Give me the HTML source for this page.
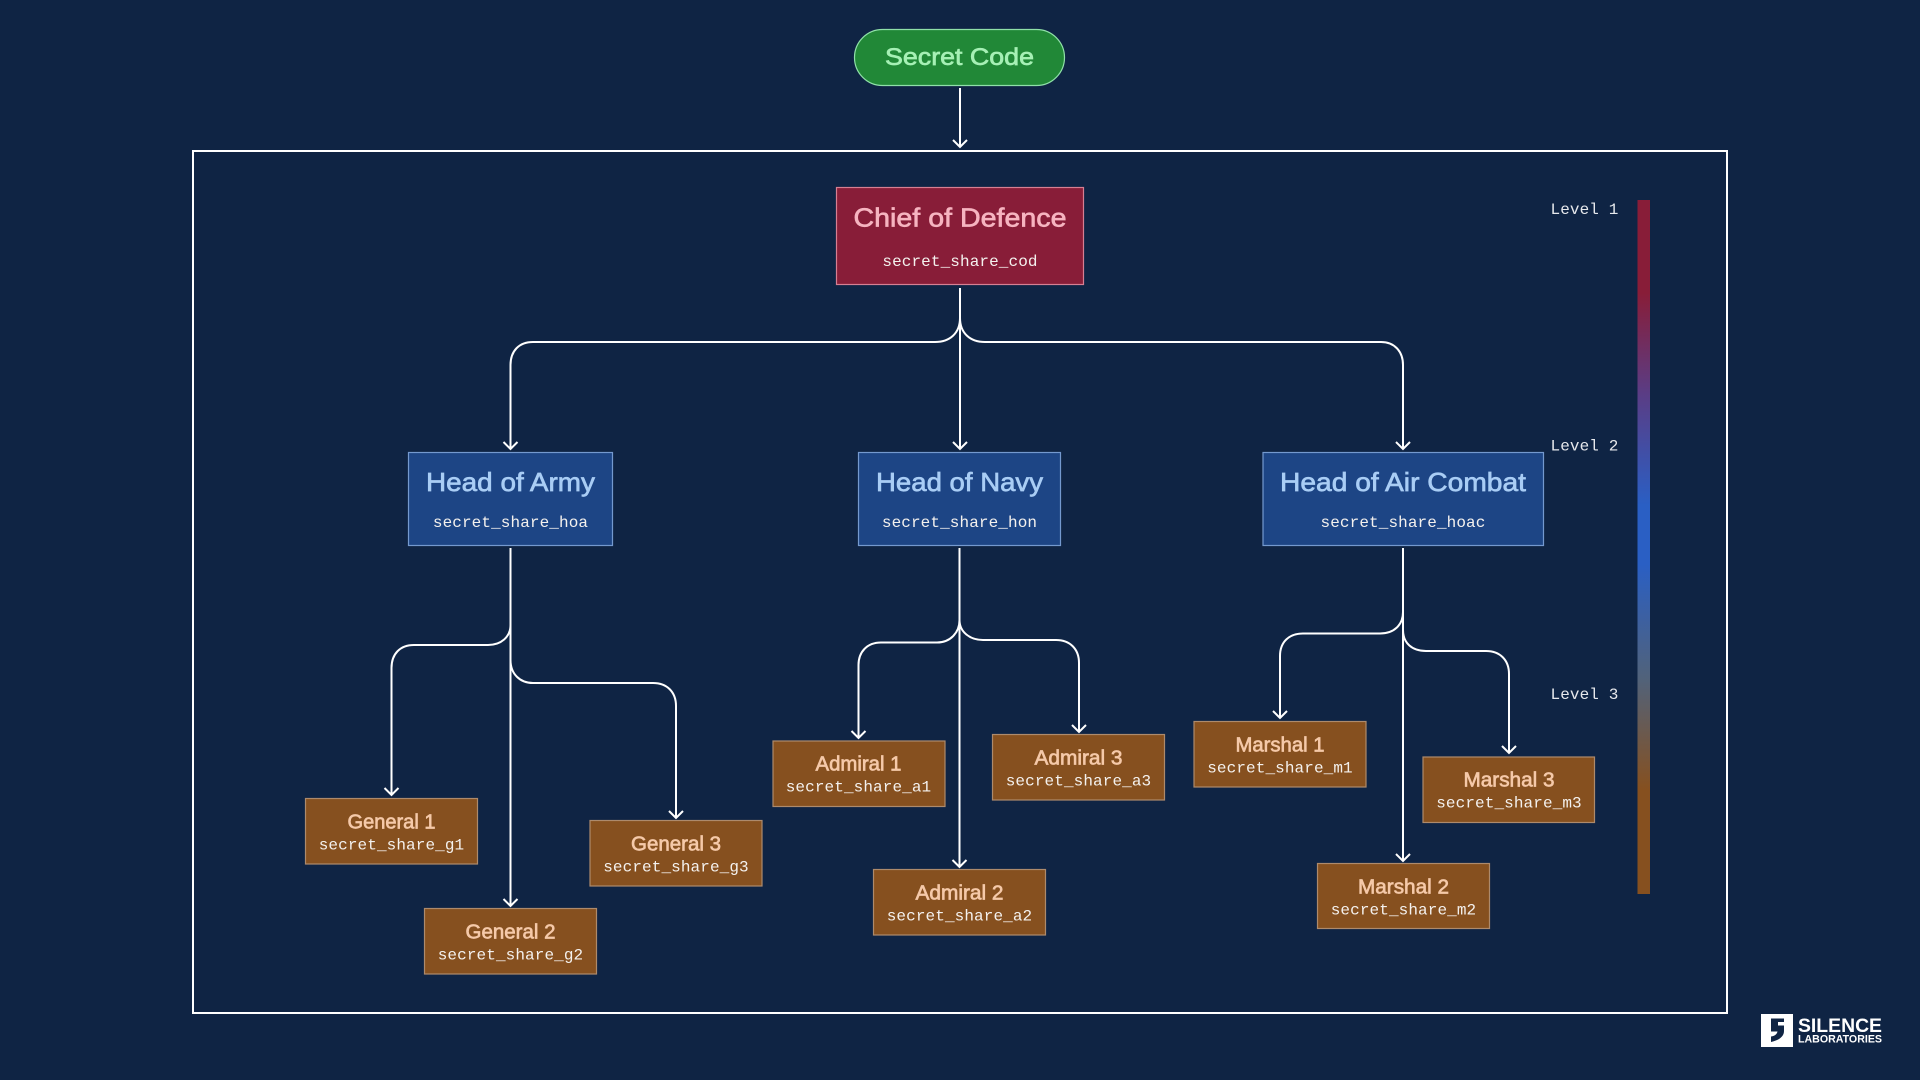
<!DOCTYPE html>
<html><head><meta charset="utf-8"><style>
html,body{margin:0;padding:0;background:#0f2444;width:1920px;height:1080px;overflow:hidden}
svg{display:block}
.t{font-family:"Liberation Sans",sans-serif;text-anchor:middle;font-weight:400;stroke-width:.65px}
.m{font-family:"Liberation Mono",monospace;font-size:16px;fill:#f4f1ee;text-anchor:middle;letter-spacing:.1px}
.a{fill:none;stroke:#fff;stroke-width:2;stroke-linecap:butt}
.or{fill:#86501f;stroke:#ad8a6c;stroke-width:1.2}
.ot{font-size:20px;fill:#f5c9a9;stroke:#f5c9a9}
.bl{fill:#1d4585;stroke:#7499cf;stroke-width:1.2}
.bt{font-size:26px;fill:#a9cdf5;stroke:#a9cdf5}
.l{font-family:"Liberation Mono",monospace;font-size:16px;fill:#e6e8ec;letter-spacing:.1px}
</style></head><body>
<svg width="1920" height="1080" viewBox="0 0 1920 1080" xmlns="http://www.w3.org/2000/svg">
<defs><linearGradient id="g" x1="0" y1="200" x2="0" y2="894" gradientUnits="userSpaceOnUse">
<stop offset="0" stop-color="#881d38"/><stop offset=".134" stop-color="#881d38"/>
<stop offset=".28" stop-color="#5a3d85"/>
<stop offset=".44" stop-color="#2a5fc4"/><stop offset=".525" stop-color="#2a5fc4"/>
<stop offset=".69" stop-color="#51627a"/>
<stop offset=".85" stop-color="#86501f"/><stop offset="1" stop-color="#86501f"/>
</linearGradient></defs>
<rect width="1920" height="1080" fill="#0f2444"/>
<rect x="193" y="151" width="1534" height="862" fill="none" stroke="#fff" stroke-width="2"/>
<rect x="1637.500" y="200" width="12.500" height="694" fill="url(#g)"/>

<!-- connectors -->
<path class="a" d="M960 88V147M953 140L960 147L967 140"/>
<path class="a" d="M960 288V449M953 442L960 449L967 442"/>
<path class="a" d="M960 318C960 333 950 342 935 342H533C519 342 510.5 351 510.5 365V449M503.5 442L510.5 449L517.5 442"/>
<path class="a" d="M960 318C960 333 970 342 985 342H1381C1394 342 1403 351 1403 365V449M1396 442L1403 449L1410 442"/>

<path class="a" d="M510.5 548V906M503.5 899L510.5 906L517.5 899"/>
<path class="a" d="M510.5 625C510.5 637 501 645 488 645H414C400 645 391.5 654 391.5 668V795M384.5 788L391.5 795L398.5 788"/>
<path class="a" d="M510.5 660C510.5 674 520 683 533 683H653C667 683 676 692 676 706V818M669 811L676 818L683 811"/>

<path class="a" d="M959.5 548V867M952.5 860L959.5 867L966.5 860"/>
<path class="a" d="M959.5 620C959.5 633 950 642.500 937 642.500H881C867 642.500 858.500 652 858.500 665V738M851.500 731L858.500 738L865.500 731"/>
<path class="a" d="M959.5 620C959.5 632 970 640 983 640H1056C1070 640 1079 649 1079 663V732M1072 725L1079 732L1086 725"/>

<path class="a" d="M1403 548V861M1396 854L1403 861L1410 854"/>
<path class="a" d="M1403 612C1403 625 1394 633.500 1380 633.500H1303C1289 633.500 1280 642 1280 656V718M1273 711L1280 718L1287 711"/>
<path class="a" d="M1403 630C1403 643 1412 651 1426 651H1486C1500 651 1509 660 1509 674V753M1502 746L1509 753L1516 746"/>

<!-- top nodes -->
<rect x="854.500" y="29.500" width="210" height="56" rx="28" fill="#218837" stroke="#8fe0a8" stroke-width="1.2"/>
<text class="t" x="959.500" y="65" font-size="24" fill="#a6f0b5" stroke="#a6f0b5" textLength="149" lengthAdjust="spacingAndGlyphs">Secret Code</text>

<rect x="836.500" y="187.500" width="247" height="97" fill="#881d38" stroke="#d67f92" stroke-width="1.2"/>
<text class="t" x="960" y="226.500" font-size="26" fill="#f6b4c0" stroke="#f6b4c0" textLength="213" lengthAdjust="spacingAndGlyphs">Chief of Defence</text>
<text class="m" x="960" y="266">secret_share_cod</text>

<!-- level 2 -->
<rect class="bl" x="408.500" y="452.500" width="204" height="93"/>
<text class="t bt" x="510.500" y="491" textLength="169" lengthAdjust="spacingAndGlyphs">Head of Army</text>
<text class="m" x="510.500" y="527">secret_share_hoa</text>

<rect class="bl" x="858.500" y="452.500" width="202" height="93"/>
<text class="t bt" x="959.500" y="491" textLength="167" lengthAdjust="spacingAndGlyphs">Head of Navy</text>
<text class="m" x="959.500" y="527">secret_share_hon</text>

<rect class="bl" x="1263" y="452.500" width="280.500" height="93"/>
<text class="t bt" x="1403" y="491" textLength="246" lengthAdjust="spacingAndGlyphs">Head of Air Combat</text>
<text class="m" x="1403" y="527">secret_share_hoac</text>

<!-- level 3 -->
<rect class="or" x="305.500" y="798.500" width="172" height="65.500"/>
<text class="t ot" x="391.500" y="828.500" textLength="88" lengthAdjust="spacingAndGlyphs">General 1</text>
<text class="m" x="391.500" y="849.500">secret_share_g1</text>

<rect class="or" x="424.500" y="908.500" width="172" height="65.500"/>
<text class="t ot" x="510.500" y="938.500" textLength="90" lengthAdjust="spacingAndGlyphs">General 2</text>
<text class="m" x="510.500" y="959.500">secret_share_g2</text>

<rect class="or" x="590" y="820.500" width="172" height="65.500"/>
<text class="t ot" x="676" y="850.500" textLength="90" lengthAdjust="spacingAndGlyphs">General 3</text>
<text class="m" x="676" y="871.500">secret_share_g3</text>

<rect class="or" x="773" y="741" width="172" height="65.500"/>
<text class="t ot" x="858.500" y="770.500" textLength="86" lengthAdjust="spacingAndGlyphs">Admiral 1</text>
<text class="m" x="858.500" y="791.500">secret_share_a1</text>

<rect class="or" x="873.500" y="869.500" width="172" height="65.500"/>
<text class="t ot" x="959.500" y="899.500" textLength="88" lengthAdjust="spacingAndGlyphs">Admiral 2</text>
<text class="m" x="959.500" y="920.500">secret_share_a2</text>

<rect class="or" x="992.500" y="734.500" width="172" height="65.500"/>
<text class="t ot" x="1078.500" y="764.500" textLength="88" lengthAdjust="spacingAndGlyphs">Admiral 3</text>
<text class="m" x="1078.500" y="785.500">secret_share_a3</text>

<rect class="or" x="1194" y="721.500" width="172" height="65.500"/>
<text class="t ot" x="1280" y="751.500" textLength="89" lengthAdjust="spacingAndGlyphs">Marshal 1</text>
<text class="m" x="1280" y="772.500">secret_share_m1</text>

<rect class="or" x="1317.500" y="863.500" width="172" height="65"/>
<text class="t ot" x="1403.500" y="893.500" textLength="91" lengthAdjust="spacingAndGlyphs">Marshal 2</text>
<text class="m" x="1403.500" y="914.500">secret_share_m2</text>

<rect class="or" x="1423" y="757" width="171.500" height="65.500"/>
<text class="t ot" x="1509" y="786.500" textLength="91" lengthAdjust="spacingAndGlyphs">Marshal 3</text>
<text class="m" x="1509" y="807.500">secret_share_m3</text>

<!-- legend -->
<text class="l" x="1550.500" y="214">Level 1</text>
<text class="l" x="1550.500" y="450.500">Level 2</text>
<text class="l" x="1550.500" y="699">Level 3</text>

<!-- logo -->
<rect x="1761" y="1014" width="32" height="33" fill="#fff"/>
<path d="M1771 1018.500H1784V1022H1778V1025.500H1784V1031C1784 1036 1780 1040 1771 1042V1036.500C1775 1036 1777 1034 1777.500 1031.500H1771Z" fill="#0f2444"/>
<text x="1798" y="1032" font-family="'Liberation Sans',sans-serif" font-weight="700" font-size="19" fill="#fff" textLength="84" lengthAdjust="spacingAndGlyphs">SILENCE</text>
<text x="1798" y="1042.500" font-family="'Liberation Sans',sans-serif" font-weight="700" font-size="11" fill="#fff" textLength="84" lengthAdjust="spacingAndGlyphs">LABORATORIES</text>
</svg>
</body></html>
